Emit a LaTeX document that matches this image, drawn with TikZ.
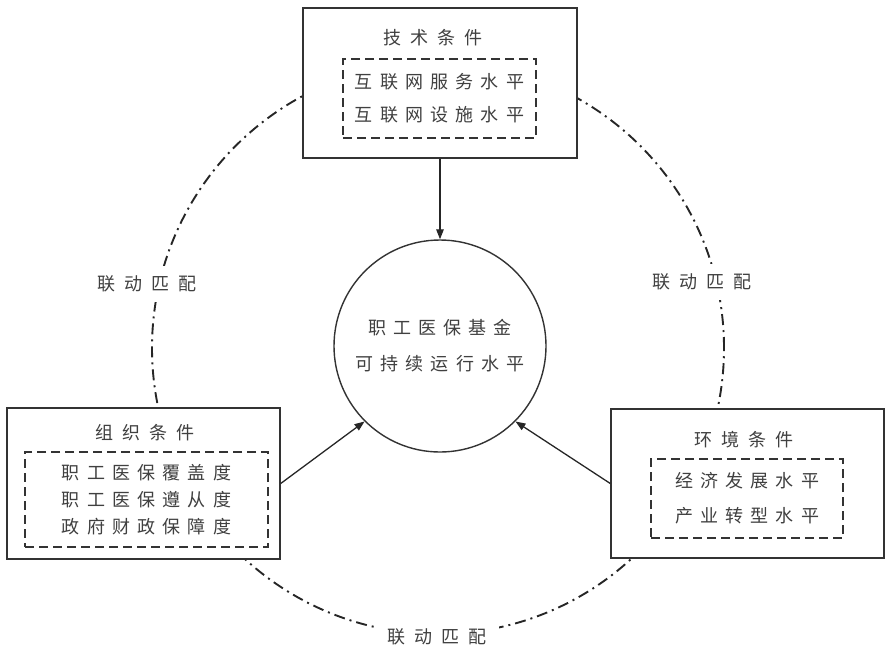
\documentclass[tikz,border=0pt]{standalone}
\usepackage{fontspec}
\usepackage{tikz}
\usetikzlibrary{arrows.meta}
\newfontfamily\cjk[LetterSpace=40]{Noto Sans CJK SC}
\newfontfamily\cjkwide[LetterSpace=50]{Noto Sans CJK SC}

\begin{document}
\begin{tikzpicture}[x=1pt,y=-1pt,>={Triangle[length=10pt,width=7.5pt]},
    cond/.style={draw=black!80,line width=1.4pt,fill=white,minimum width=274pt,minimum height=150pt},
    factors/.style={draw=black!80,line width=2.3pt,dash pattern=on 9pt off 5pt,align=center,
        text=black!75,font=\cjk\fontsize{18}{#1}\selectfont},
    title/.style={text=black!75,font=\cjkwide\fontsize{18}{22}\selectfont},
    core/.style={circle,draw=black!80,line width=1.4pt,fill=white,minimum size=212pt,inner sep=0pt,
        align=center,text=black!75,font=\cjk\fontsize{18}{36}\selectfont},
    linkage/.style={draw=black!85,line width=1.9pt,dash pattern=on 11pt off 5pt on 2pt off 5pt},
    match/.style={fill=white,inner xsep=12pt,inner ysep=10pt,text=black!75,font=\cjkwide\fontsize{18}{22}\selectfont}]

          \useasboundingbox (0,0) rectangle (885,651);

          % linkage ring behind everything
          \draw[linkage] (438,348) circle[radius=286pt];

          \node[match] (matchL) at (147,284) {联动匹配};
          \node[match] (matchR) at (702,282) {联动匹配};
          \node[match] (matchB) at (437,637) {联动匹配};

          \node[core] (core) at (440,346) {职工医保基金\\可持续运行水平};

          % three conditions
          \node[cond] (tech) at (440,83) {};
          \node[title] (techT) at (433,38) {技术条件};
          \node[factors=33,minimum width=193pt,minimum height=79pt] (techF) at (439.5,98.5)
            {互联网服务水平\\互联网设施水平};

          \node[cond,minimum width=273pt,minimum height=151pt] (org) at (143.5,483.5) {};
          \node[title] (orgT) at (145,433) {组织条件};
          \node[factors=27,minimum width=243pt,minimum height=95pt] (orgF) at (146.5,499.5)
            {职工医保覆盖度\\职工医保遵从度\\政府财政保障度};

          \node[cond,minimum width=273pt,minimum height=149pt] (env) at (747.5,483.5) {};
          \node[title] (envT) at (744,440) {环境条件};
          \node[factors=35,minimum width=192pt,minimum height=79pt] (envF) at (747,498.5)
            {经济发展水平\\产业转型水平};

          \path[->,color=black!85,line width=1.3pt]
          (tech) edge (core)
          (org.east) edge (core.225)
          (env.west) edge (core.315)
          ;
        \end{tikzpicture}
\end{document}
